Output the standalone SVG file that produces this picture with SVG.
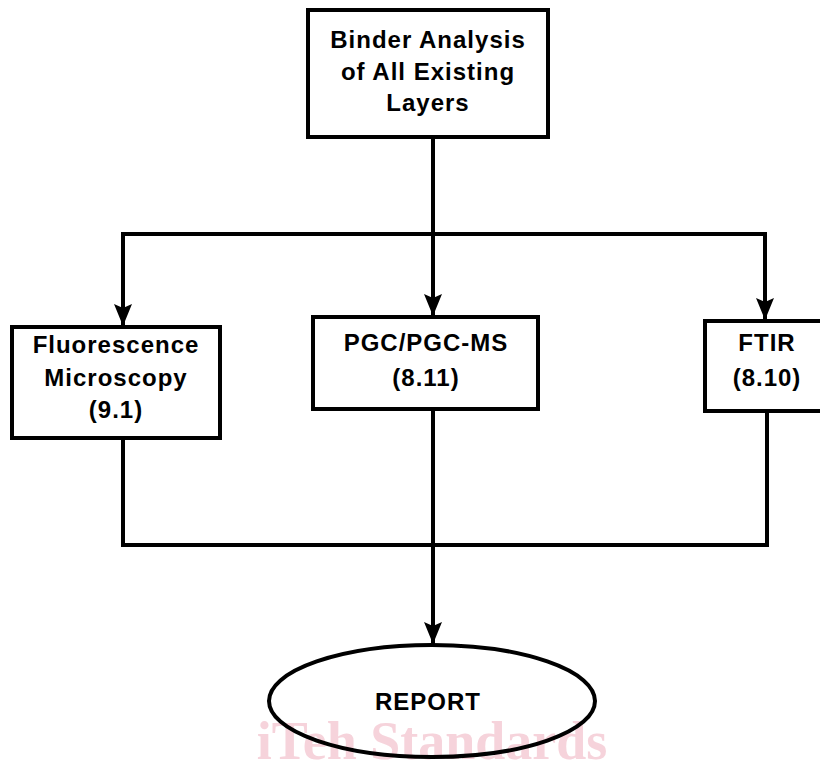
<svg xmlns="http://www.w3.org/2000/svg" width="820" height="763" viewBox="0 0 820 763">
  <style>
    .box { fill: #ffffff; stroke: #000000; stroke-width: 4; }
    .oval { fill: none; stroke: #000000; stroke-width: 4; }
    .lbl { font-family: "Liberation Sans", Arial, sans-serif; font-weight: bold; font-size: 24px; letter-spacing: 1px; fill: #000000; text-anchor: middle; }
    .wire { fill: none; stroke: #000000; stroke-width: 4; stroke-linecap: square; }
    .mark { font-family: "Liberation Serif", "Times New Roman", serif; font-weight: bold; font-size: 54px; fill: #f6d3db; text-anchor: middle; }
  </style>
  <defs>
    <marker id="arrow" markerUnits="userSpaceOnUse" viewBox="0 0 22 18" refX="22" refY="9" markerWidth="22" markerHeight="18" orient="auto">
      <path d="M0,0 L4,9 L0,18 L22,9 z" fill="#000000"/>
    </marker>
  </defs>

  <rect width="820" height="763" fill="#ffffff"/>

  <!-- faint watermark along the bottom edge -->
  <text class="mark" x="432" y="759">iTeh Standards</text>

  <!-- connectors -->
  <g id="connectors">
    <path class="wire" d="M433,137 V234"/>
    <path class="wire" d="M123,234 H765"/>
    <path class="wire" d="M123,234 V326" marker-end="url(#arrow)"/>
    <path class="wire" d="M433,234 V316" marker-end="url(#arrow)"/>
    <path class="wire" d="M765,234 V320" marker-end="url(#arrow)"/>
    <path class="wire" d="M123,438 V545 H767 V411"/>
    <path class="wire" d="M433,409 V644" marker-end="url(#arrow)"/>
  </g>

  <g id="binder-analysis">
    <rect class="box" x="308" y="10" width="240" height="127"/>
    <text class="lbl" x="428" y="48">Binder Analysis</text>
    <text class="lbl" x="428" y="80">of All Existing</text>
    <text class="lbl" x="428" y="111">Layers</text>
  </g>

  <g id="fluorescence">
    <rect class="box" x="12" y="327" width="208" height="111"/>
    <text class="lbl" x="116" y="353">Fluorescence</text>
    <text class="lbl" x="116" y="386">Microscopy</text>
    <text class="lbl" x="116" y="418">(9.1)</text>
  </g>

  <g id="pgc">
    <rect class="box" x="313" y="317" width="225" height="92"/>
    <text class="lbl" x="426" y="351">PGC/PGC-MS</text>
    <text class="lbl" x="426" y="386">(8.11)</text>
  </g>

  <g id="ftir">
    <rect class="box" x="705" y="321" width="130" height="90"/>
    <text class="lbl" x="767" y="351">FTIR</text>
    <text class="lbl" x="767" y="386">(8.10)</text>
  </g>

  <g id="report">
    <ellipse class="oval" cx="432" cy="701" rx="163" ry="56"/>
    <text class="lbl" x="428" y="710">REPORT</text>
  </g>
</svg>
